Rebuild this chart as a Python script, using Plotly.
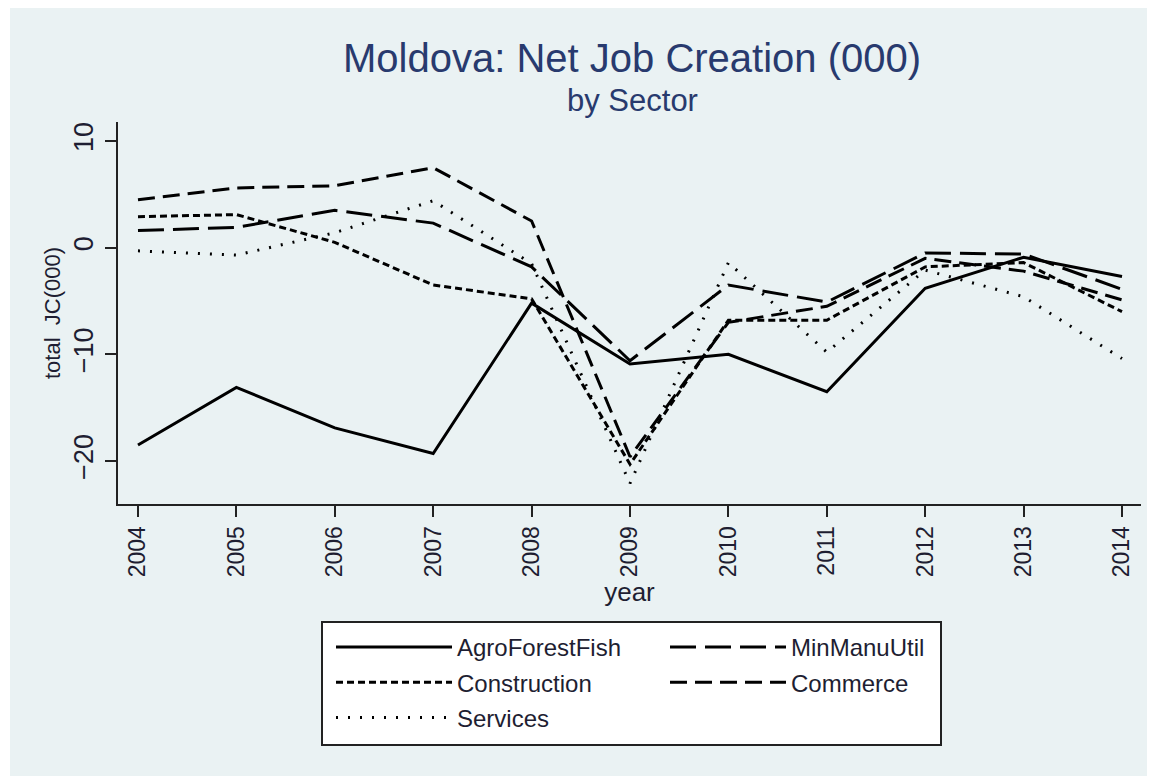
import plotly.graph_objects as go

years = [2004, 2005, 2006, 2007, 2008, 2009, 2010, 2011, 2012, 2013, 2014]
agro_forest_fish = [-18.5, -13.1, -16.9, -19.3, -5.2, -10.9, -10.0, -13.5, -3.8, -0.9, -2.7]
min_manu_util = [1.6, 1.9, 3.5, 2.3, -1.8, -10.6, -3.5, -5.1, -0.5, -0.6, -3.9]
construction = [2.9, 3.1, 0.5, -3.5, -4.8, -20.3, -6.8, -6.8, -1.8, -1.4, -6.0]
commerce = [4.5, 5.6, 5.8, 7.5, 2.5, -19.6, -7.0, -5.5, -1.0, -2.2, -4.9]
services = [-0.3, -0.7, 1.4, 4.4, -1.5, -22.1, -1.4, -9.8, -2.1, -4.6, -10.4]
y_ticks = [-20, -10, 0, 10]

OFF = 8  # page body margin
W, H = 1155 - OFF, 776 - OFF
L, R, T, B = 118 - OFF, 14, 122 - OFF, 272
PW, PH = W - L - R, H - T - B

def px(x):  # x in window pixels -> paper
    return (x - OFF - L) / PW

def py(y):  # y in window pixels -> paper
    return (H + OFF - B - y) / PH

FONT = "Liberation Sans, Arial, sans-serif"
TXT = "#1e1e32"
BG = "#EAF2F3"

series = [
    ("AgroForestFish", agro_forest_fish, "solid", 3, "legend"),
    ("MinManuUtil", min_manu_util, "26px,9px", 3, "legend2"),
    ("Construction", construction, "7px,4px", 3, "legend"),
    ("Commerce", commerce, "17px,8px", 3, "legend2"),
    ("Services", services, "2px,10px", 3, "legend"),
]

fig = go.Figure()
for name, vals, dash, w, lg in series:
    fig.add_trace(go.Scatter(
        x=years, y=vals, mode="lines", name=name,
        line=dict(color="black", width=w, dash=dash),
        legend=lg, legendgroup=name, hoverinfo="skip",
    ))

legend_common = dict(
    bgcolor="rgba(0,0,0,0)", borderwidth=0, orientation="v",
    font=dict(family=FONT, size=24, color=TXT),
    itemwidth=116, traceorder="grouped", tracegroupgap=1,
    xanchor="left", yanchor="top",
)

fig.update_layout(
    width=W, height=H,
    margin=dict(l=L, r=R, t=T, b=B, autoexpand=False),
    paper_bgcolor="white", plot_bgcolor="white",
    showlegend=True,
    legend=dict(x=px(331), y=py(625), **legend_common),
    legend2=dict(x=px(665), y=py(625), **legend_common),
    xaxis=dict(
        range=[2003.797, 2014.193], tickvals=years, tickangle=-90,
        ticks="outside", ticklen=11, tickwidth=2, tickcolor="#222",
        showline=True, linecolor="#222", linewidth=2, showgrid=False, zeroline=False,
        tickfont=dict(family=FONT, size=23, color=TXT),
        title=dict(text="year", font=dict(family=FONT, size=26, color=TXT), standoff=4),
    ),
    yaxis=dict(
        range=[-24.03, 11.78], tickvals=y_ticks, tickangle=-90,
        ticks="outside", ticklen=11, tickwidth=2, tickcolor="#222",
        showline=True, linecolor="#222", linewidth=2,
        showgrid=True, gridcolor=BG, gridwidth=2, zeroline=False,
        ticklabelstandoff=1,
        tickfont=dict(family=FONT, size=27, color=TXT),
        title=dict(text="total  JC(000)", font=dict(family=FONT, size=22, color=TXT), standoff=3),
    ),
    shapes=[
        dict(type="rect", xref="paper", yref="paper", x0=px(10), x1=px(1160), y0=py(780), y1=py(7),
             fillcolor=BG, line=dict(width=0), layer="below"),
        dict(type="rect", xref="paper", yref="paper", x0=px(322), x1=px(941), y0=py(745), y1=py(622),
             fillcolor="white", line=dict(color="#222", width=2), layer="below"),
    ],
    annotations=[
        dict(text="Moldova: Net Job Creation (000)", xref="paper", yref="paper", x=px(632), y=py(58),
             xanchor="center", yanchor="middle", showarrow=False,
             font=dict(family=FONT, size=40, color="#283a6e")),
        dict(text="by Sector", xref="paper", yref="paper", x=px(632), y=py(100),
             xanchor="center", yanchor="middle", showarrow=False,
             font=dict(family=FONT, size=31, color="#283a6e")),
    ],
)

fig.write_html("out.html")
